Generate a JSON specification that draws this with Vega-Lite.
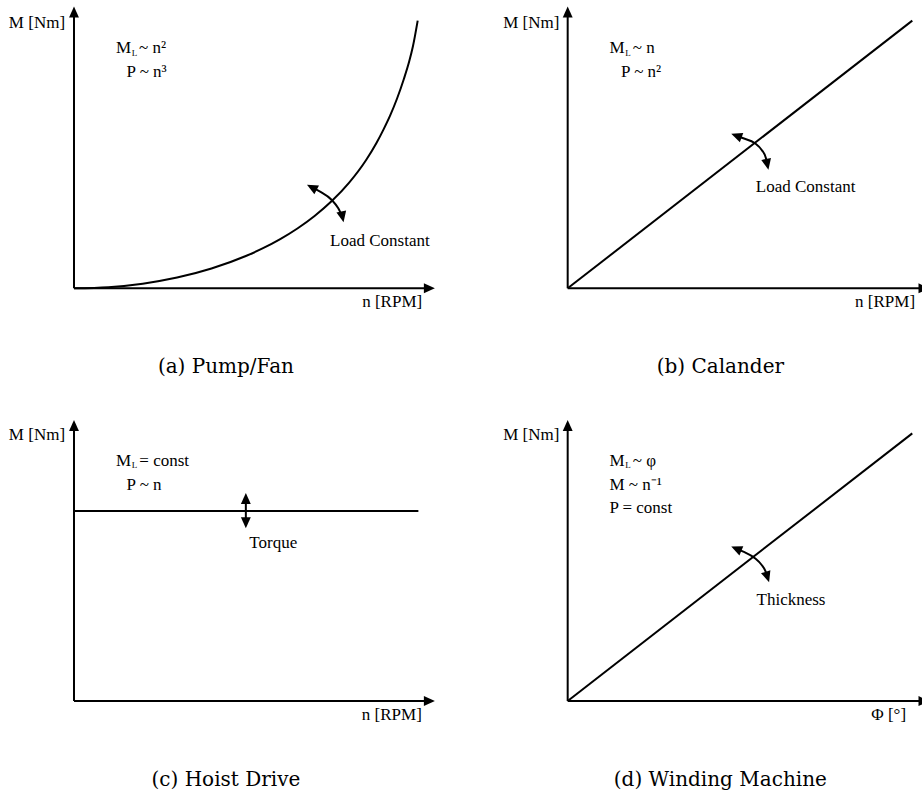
{
  "$schema": "https://vega.github.io/schema/vega-lite/v6.json",
  "padding": 0,
  "autosize": {"type": "pad"},
  "spacing": 0,
  "bounds": "flush",
  "columns": 2,
  "background": "white",
  "config": {
    "view": {"stroke": null},
    "text": {"font": "Liberation Serif", "fontSize": 17, "color": "black"}
  },
  "datasets": {
    "segments": [
      {"panel": "a", "x": 0, "y": 0, "x2": 0, "y2": 103.2},
      {"panel": "a", "x": 0, "y": 0, "x2": 103.4, "y2": 0},
      {"panel": "b", "x": 0, "y": 0, "x2": 0, "y2": 103.2},
      {"panel": "b", "x": 0, "y": 0, "x2": 103.4, "y2": 0},
      {"panel": "b", "x": 0, "y": 0, "x2": 100, "y2": 100},
      {"panel": "c", "x": 0, "y": 0, "x2": 0, "y2": 102.95},
      {"panel": "c", "x": 0, "y": 0, "x2": 103.4, "y2": 0},
      {"panel": "c", "x": 0, "y": 71, "x2": 100.2, "y2": 71},
      {"panel": "c", "x": 50, "y": 75.7, "x2": 50, "y2": 66.6},
      {"panel": "d", "x": 0, "y": 0, "x2": 0, "y2": 102.95},
      {"panel": "d", "x": 0, "y": 0, "x2": 103.4, "y2": 0},
      {"panel": "d", "x": 0, "y": 0, "x2": 100, "y2": 100}
    ],
    "curves": [
      {"panel": "a", "id": "load", "order": 1, "x": 0, "y": 0},
      {"panel": "a", "id": "load", "order": 2, "x": 10, "y": 0.42},
      {"panel": "a", "id": "load", "order": 3, "x": 20, "y": 1.73},
      {"panel": "a", "id": "load", "order": 4, "x": 30, "y": 4.01},
      {"panel": "a", "id": "load", "order": 5, "x": 40, "y": 7.39},
      {"panel": "a", "id": "load", "order": 6, "x": 50, "y": 12.06},
      {"panel": "a", "id": "load", "order": 7, "x": 55, "y": 14.98},
      {"panel": "a", "id": "load", "order": 8, "x": 60, "y": 18.38},
      {"panel": "a", "id": "load", "order": 9, "x": 65, "y": 22.35},
      {"panel": "a", "id": "load", "order": 10, "x": 70, "y": 27.02},
      {"panel": "a", "id": "load", "order": 11, "x": 75, "y": 32.59},
      {"panel": "a", "id": "load", "order": 12, "x": 80, "y": 39.39},
      {"panel": "a", "id": "load", "order": 13, "x": 85, "y": 47.94},
      {"panel": "a", "id": "load", "order": 14, "x": 88, "y": 54.28},
      {"panel": "a", "id": "load", "order": 15, "x": 90, "y": 59.2},
      {"panel": "a", "id": "load", "order": 16, "x": 92, "y": 64.6},
      {"panel": "a", "id": "load", "order": 17, "x": 94, "y": 70.9},
      {"panel": "a", "id": "load", "order": 18, "x": 96, "y": 78.3},
      {"panel": "a", "id": "load", "order": 19, "x": 97.5, "y": 84.6},
      {"panel": "a", "id": "load", "order": 20, "x": 98.6, "y": 90.3},
      {"panel": "a", "id": "load", "order": 21, "x": 100, "y": 100},
      {"panel": "a", "id": "arc", "order": 1, "x": 69.2, "y": 37.7},
      {"panel": "a", "id": "arc", "order": 2, "x": 71.6, "y": 36.1},
      {"panel": "a", "id": "arc", "order": 3, "x": 75.0, "y": 33.0},
      {"panel": "a", "id": "arc", "order": 4, "x": 76.9, "y": 29.9},
      {"panel": "a", "id": "arc", "order": 5, "x": 78.1, "y": 26.7},
      {"panel": "b", "id": "arc", "order": 1, "x": 48.96, "y": 57.0},
      {"panel": "b", "id": "arc", "order": 2, "x": 50.96, "y": 56.05},
      {"panel": "b", "id": "arc", "order": 3, "x": 54.35, "y": 54.19},
      {"panel": "b", "id": "arc", "order": 4, "x": 56.3, "y": 51.68},
      {"panel": "b", "id": "arc", "order": 5, "x": 57.54, "y": 48.58},
      {"panel": "b", "id": "arc", "order": 6, "x": 57.92, "y": 46.3},
      {"panel": "d", "id": "arc", "order": 1, "x": 48.93, "y": 56.91},
      {"panel": "d", "id": "arc", "order": 2, "x": 50.96, "y": 55.83},
      {"panel": "d", "id": "arc", "order": 3, "x": 54.35, "y": 53.33},
      {"panel": "d", "id": "arc", "order": 4, "x": 56.3, "y": 50.82},
      {"panel": "d", "id": "arc", "order": 5, "x": 57.46, "y": 48.32},
      {"panel": "d", "id": "arc", "order": 6, "x": 57.95, "y": 46.36}
    ],
    "heads": [
      {"panel": "a", "x": 0, "y": 103.2, "dir": 0},
      {"panel": "a", "x": 103.4, "y": 0, "dir": 90},
      {"panel": "a", "x": 69.2, "y": 37.7, "dir": 298},
      {"panel": "a", "x": 78.1, "y": 26.7, "dir": 168},
      {"panel": "b", "x": 0, "y": 103.2, "dir": 0},
      {"panel": "b", "x": 103.4, "y": 0, "dir": 90},
      {"panel": "b", "x": 48.96, "y": 57.0, "dir": 290},
      {"panel": "b", "x": 57.92, "y": 46.3, "dir": 168},
      {"panel": "c", "x": 0, "y": 102.95, "dir": 0},
      {"panel": "c", "x": 103.4, "y": 0, "dir": 90},
      {"panel": "c", "x": 50, "y": 75.7, "dir": 0},
      {"panel": "c", "x": 50, "y": 66.6, "dir": 180},
      {"panel": "d", "x": 0, "y": 102.95, "dir": 0},
      {"panel": "d", "x": 103.4, "y": 0, "dir": 90},
      {"panel": "d", "x": 48.93, "y": 56.91, "dir": 293},
      {"panel": "d", "x": 57.95, "y": 46.36, "dir": 162}
    ],
    "axislabels": [
      {"panel": "a", "x": -2.6, "y": 97.2, "text": "M [Nm]"},
      {"panel": "a", "x": 101.3, "y": -6.9, "text": "n [RPM]"},
      {"panel": "b", "x": -2.4, "y": 97.2, "text": "M [Nm]"},
      {"panel": "b", "x": 100.8, "y": -6.9, "text": "n [RPM]"},
      {"panel": "c", "x": -2.6, "y": 97.5, "text": "M [Nm]"},
      {"panel": "c", "x": 101.2, "y": -7.1, "text": "n [RPM]"},
      {"panel": "d", "x": -2.4, "y": 97.5, "text": "M [Nm]"},
      {"panel": "d", "x": 98.2, "y": -7.1, "text": "Φ [°]"}
    ],
    "notes": [
      {"panel": "a", "x": 12.2, "y": 88.0, "text": "M"},
      {"panel": "a", "x": 18.9, "y": 88.0, "text": "~ n²"},
      {"panel": "a", "x": 15.3, "y": 79.0, "text": "P ~ n³"},
      {"panel": "a", "x": 74.5, "y": 15.8, "text": "Load Constant"},
      {"panel": "b", "x": 12.1, "y": 88.0, "text": "M"},
      {"panel": "b", "x": 18.9, "y": 88.0, "text": "~ n"},
      {"panel": "b", "x": 15.5, "y": 79.0, "text": "P ~ n²"},
      {"panel": "b", "x": 54.6, "y": 36.0, "text": "Load Constant"},
      {"panel": "c", "x": 12.2, "y": 88.0, "text": "M"},
      {"panel": "c", "x": 19.0, "y": 88.0, "text": "= const"},
      {"panel": "c", "x": 15.3, "y": 79.0, "text": "P ~ n"},
      {"panel": "c", "x": 51.0, "y": 57.3, "text": "Torque"},
      {"panel": "d", "x": 12.1, "y": 88.0, "text": "M"},
      {"panel": "d", "x": 18.9, "y": 88.0, "text": "~ φ"},
      {"panel": "d", "x": 12.1, "y": 79.0, "text": "M ~ n⁻¹"},
      {"panel": "d", "x": 12.1, "y": 70.1, "text": "P = const"},
      {"panel": "d", "x": 54.8, "y": 35.9, "text": "Thickness"}
    ],
    "subs": [
      {"panel": "a", "x": 16.8, "y": 86.9, "text": "L"},
      {"panel": "b", "x": 16.7, "y": 86.9, "text": "L"},
      {"panel": "c", "x": 16.8, "y": 86.9, "text": "L"},
      {"panel": "d", "x": 16.7, "y": 86.9, "text": "L"}
    ],
    "captions": [
      {"panel": "a", "x": 44.2, "y": -31.7, "text": "(a) Pump/Fan"},
      {"panel": "b", "x": 44.3, "y": -31.7, "text": "(b) Calander"},
      {"panel": "c", "x": 44.2, "y": -31.7, "text": "(c) Hoist Drive"},
      {"panel": "d", "x": 44.3, "y": -31.7, "text": "(d) Winding Machine"}
    ]
  },
  "concat": [
    {
      "width": 461, "height": 397,
      "encoding": {
        "x": {"field": "x", "type": "quantitative", "scale": {"domain": [-21.53, 112.6], "nice": false, "zero": false}, "axis": null},
        "y": {"field": "y", "type": "quantitative", "scale": {"domain": [-40.6, 107.7], "nice": false, "zero": false}, "axis": null}
      },
      "layer": [
        {"data": {"name": "segments"}, "transform": [{"filter": "datum.panel == 'a'"}], "mark": {"type": "rule", "color": "black", "strokeWidth": 2}, "encoding": {"x2": {"field": "x2"}, "y2": {"field": "y2"}}},
        {"data": {"name": "curves"}, "transform": [{"filter": "datum.panel == 'a'"}], "mark": {"type": "line", "color": "black", "strokeWidth": 2, "interpolate": "monotone"}, "encoding": {"detail": {"field": "id"}, "order": {"field": "order", "type": "quantitative"}}},
        {"data": {"name": "heads"}, "transform": [{"filter": "datum.panel == 'a'"}], "mark": {"type": "point", "shape": "M0,-1L0.9,1L-0.9,1Z", "filled": true, "color": "black", "size": 121, "opacity": 1, "strokeWidth": 0}, "encoding": {"angle": {"field": "dir", "type": "quantitative", "scale": null}}},
        {"data": {"name": "axislabels"}, "transform": [{"filter": "datum.panel == 'a'"}], "mark": {"type": "text", "align": "right", "baseline": "alphabetic", "font": "Liberation Serif", "fontSize": 17, "color": "black"}, "encoding": {"text": {"field": "text"}}},
        {"data": {"name": "notes"}, "transform": [{"filter": "datum.panel == 'a'"}], "mark": {"type": "text", "align": "left", "baseline": "alphabetic", "font": "Liberation Serif", "fontSize": 17, "color": "black"}, "encoding": {"text": {"field": "text"}}},
        {"data": {"name": "subs"}, "transform": [{"filter": "datum.panel == 'a'"}], "mark": {"type": "text", "align": "left", "baseline": "alphabetic", "font": "Liberation Serif", "fontSize": 9, "color": "black"}, "encoding": {"text": {"field": "text"}}},
        {"data": {"name": "captions"}, "transform": [{"filter": "datum.panel == 'a'"}], "mark": {"type": "text", "align": "center", "baseline": "alphabetic", "font": "DejaVu Serif", "fontSize": 20, "color": "black"}, "encoding": {"text": {"field": "text"}}}
      ]
    },
    {
      "width": 461, "height": 397,
      "encoding": {
        "x": {"field": "x", "type": "quantitative", "scale": {"domain": [-30.96, 102.82], "nice": false, "zero": false}, "axis": null},
        "y": {"field": "y", "type": "quantitative", "scale": {"domain": [-40.6, 107.7], "nice": false, "zero": false}, "axis": null}
      },
      "layer": [
        {"data": {"name": "segments"}, "transform": [{"filter": "datum.panel == 'b'"}], "mark": {"type": "rule", "color": "black", "strokeWidth": 2}, "encoding": {"x2": {"field": "x2"}, "y2": {"field": "y2"}}},
        {"data": {"name": "curves"}, "transform": [{"filter": "datum.panel == 'b'"}], "mark": {"type": "line", "color": "black", "strokeWidth": 2, "interpolate": "monotone"}, "encoding": {"detail": {"field": "id"}, "order": {"field": "order", "type": "quantitative"}}},
        {"data": {"name": "heads"}, "transform": [{"filter": "datum.panel == 'b'"}], "mark": {"type": "point", "shape": "M0,-1L0.9,1L-0.9,1Z", "filled": true, "color": "black", "size": 121, "opacity": 1, "strokeWidth": 0}, "encoding": {"angle": {"field": "dir", "type": "quantitative", "scale": null}}},
        {"data": {"name": "axislabels"}, "transform": [{"filter": "datum.panel == 'b'"}], "mark": {"type": "text", "align": "right", "baseline": "alphabetic", "font": "Liberation Serif", "fontSize": 17, "color": "black"}, "encoding": {"text": {"field": "text"}}},
        {"data": {"name": "notes"}, "transform": [{"filter": "datum.panel == 'b'"}], "mark": {"type": "text", "align": "left", "baseline": "alphabetic", "font": "Liberation Serif", "fontSize": 17, "color": "black"}, "encoding": {"text": {"field": "text"}}},
        {"data": {"name": "subs"}, "transform": [{"filter": "datum.panel == 'b'"}], "mark": {"type": "text", "align": "left", "baseline": "alphabetic", "font": "Liberation Serif", "fontSize": 9, "color": "black"}, "encoding": {"text": {"field": "text"}}},
        {"data": {"name": "captions"}, "transform": [{"filter": "datum.panel == 'b'"}], "mark": {"type": "text", "align": "center", "baseline": "alphabetic", "font": "DejaVu Serif", "fontSize": 20, "color": "black"}, "encoding": {"text": {"field": "text"}}}
      ]
    },
    {
      "width": 461, "height": 397,
      "encoding": {
        "x": {"field": "x", "type": "quantitative", "scale": {"domain": [-21.53, 112.6], "nice": false, "zero": false}, "axis": null},
        "y": {"field": "y", "type": "quantitative", "scale": {"domain": [-34.75, 113.6], "nice": false, "zero": false}, "axis": null}
      },
      "layer": [
        {"data": {"name": "segments"}, "transform": [{"filter": "datum.panel == 'c'"}], "mark": {"type": "rule", "color": "black", "strokeWidth": 2}, "encoding": {"x2": {"field": "x2"}, "y2": {"field": "y2"}}},
        {"data": {"name": "heads"}, "transform": [{"filter": "datum.panel == 'c'"}], "mark": {"type": "point", "shape": "M0,-1L0.9,1L-0.9,1Z", "filled": true, "color": "black", "size": 121, "opacity": 1, "strokeWidth": 0}, "encoding": {"angle": {"field": "dir", "type": "quantitative", "scale": null}}},
        {"data": {"name": "axislabels"}, "transform": [{"filter": "datum.panel == 'c'"}], "mark": {"type": "text", "align": "right", "baseline": "alphabetic", "font": "Liberation Serif", "fontSize": 17, "color": "black"}, "encoding": {"text": {"field": "text"}}},
        {"data": {"name": "notes"}, "transform": [{"filter": "datum.panel == 'c'"}], "mark": {"type": "text", "align": "left", "baseline": "alphabetic", "font": "Liberation Serif", "fontSize": 17, "color": "black"}, "encoding": {"text": {"field": "text"}}},
        {"data": {"name": "subs"}, "transform": [{"filter": "datum.panel == 'c'"}], "mark": {"type": "text", "align": "left", "baseline": "alphabetic", "font": "Liberation Serif", "fontSize": 9, "color": "black"}, "encoding": {"text": {"field": "text"}}},
        {"data": {"name": "captions"}, "transform": [{"filter": "datum.panel == 'c'"}], "mark": {"type": "text", "align": "center", "baseline": "alphabetic", "font": "DejaVu Serif", "fontSize": 20, "color": "black"}, "encoding": {"text": {"field": "text"}}}
      ]
    },
    {
      "width": 461, "height": 397,
      "encoding": {
        "x": {"field": "x", "type": "quantitative", "scale": {"domain": [-30.96, 102.82], "nice": false, "zero": false}, "axis": null},
        "y": {"field": "y", "type": "quantitative", "scale": {"domain": [-34.75, 113.6], "nice": false, "zero": false}, "axis": null}
      },
      "layer": [
        {"data": {"name": "segments"}, "transform": [{"filter": "datum.panel == 'd'"}], "mark": {"type": "rule", "color": "black", "strokeWidth": 2}, "encoding": {"x2": {"field": "x2"}, "y2": {"field": "y2"}}},
        {"data": {"name": "curves"}, "transform": [{"filter": "datum.panel == 'd'"}], "mark": {"type": "line", "color": "black", "strokeWidth": 2, "interpolate": "monotone"}, "encoding": {"detail": {"field": "id"}, "order": {"field": "order", "type": "quantitative"}}},
        {"data": {"name": "heads"}, "transform": [{"filter": "datum.panel == 'd'"}], "mark": {"type": "point", "shape": "M0,-1L0.9,1L-0.9,1Z", "filled": true, "color": "black", "size": 121, "opacity": 1, "strokeWidth": 0}, "encoding": {"angle": {"field": "dir", "type": "quantitative", "scale": null}}},
        {"data": {"name": "axislabels"}, "transform": [{"filter": "datum.panel == 'd'"}], "mark": {"type": "text", "align": "right", "baseline": "alphabetic", "font": "Liberation Serif", "fontSize": 17, "color": "black"}, "encoding": {"text": {"field": "text"}}},
        {"data": {"name": "notes"}, "transform": [{"filter": "datum.panel == 'd'"}], "mark": {"type": "text", "align": "left", "baseline": "alphabetic", "font": "Liberation Serif", "fontSize": 17, "color": "black"}, "encoding": {"text": {"field": "text"}}},
        {"data": {"name": "subs"}, "transform": [{"filter": "datum.panel == 'd'"}], "mark": {"type": "text", "align": "left", "baseline": "alphabetic", "font": "Liberation Serif", "fontSize": 9, "color": "black"}, "encoding": {"text": {"field": "text"}}},
        {"data": {"name": "captions"}, "transform": [{"filter": "datum.panel == 'd'"}], "mark": {"type": "text", "align": "center", "baseline": "alphabetic", "font": "DejaVu Serif", "fontSize": 20, "color": "black"}, "encoding": {"text": {"field": "text"}}}
      ]
    }
  ]
}
